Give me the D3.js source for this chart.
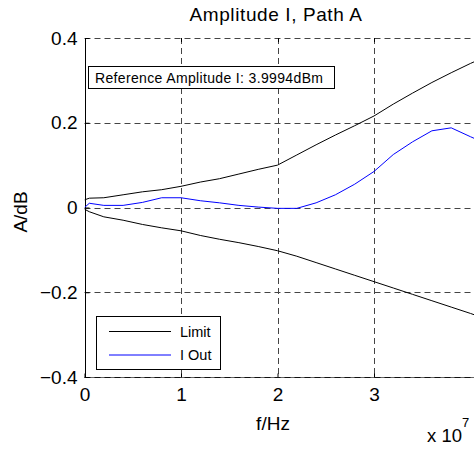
<!DOCTYPE html>
<html><head><meta charset="utf-8">
<script src="https://cdn.jsdelivr.net/npm/d3@7"></script>
<style>body{margin:0;background:#fff}svg{display:block;font-family:Arial,"Liberation Sans",sans-serif}</style>
</head><body>
<svg id="c" width="474" height="449"></svg>
<script>
const freq = [0, 0.05, 0.2, 0.4, 0.6, 0.8, 1.0, 1.2, 1.4, 1.6, 1.8, 2.0, 2.2, 2.4, 2.6, 2.8, 3.0, 3.2, 3.4, 3.6, 3.8, 4.0, 4.05];
const limitUpper = [0.018, 0.022, 0.023, 0.030, 0.037, 0.042, 0.050, 0.060, 0.068, 0.079, 0.090, 0.100, 0.124, 0.148, 0.171, 0.193, 0.216, 0.244, 0.270, 0.295, 0.318, 0.340, 0.345];
const limitLower = [-0.004, -0.010, -0.022, -0.030, -0.040, -0.048, -0.055, -0.066, -0.075, -0.083, -0.092, -0.102, -0.115, -0.130, -0.145, -0.160, -0.175, -0.190, -0.205, -0.220, -0.235, -0.250, -0.254];
const iOut = [0.000, 0.010, 0.005, 0.005, 0.012, 0.023, 0.023, 0.016, 0.011, 0.005, 0.001, -0.002, -0.002, 0.011, 0.030, 0.055, 0.085, 0.125, 0.155, 0.181, 0.188, 0.167, 0.162];
const xTicks = [0, 1, 2, 3];
const yTicks = [-0.4, -0.2, 0, 0.2, 0.4];
const xGrid = [1, 2, 3];
const yGrid = [-0.2, 0, 0.2, 0.4];
const titleText = "Amplitude I, Path A";
const noteText = "Reference Amplitude I: 3.9994dBm";
const legendNames = ["Limit", "I Out"];

const svg = d3.select("#c");
const L = 84.5, R = 470.5, T = 38, B = 377;
const x = d3.scaleLinear().domain([0, 4]).range([L, R]);
const y = d3.scaleLinear().domain([-0.4, 0.4]).range([B, T]);

const defs = svg.append("defs");
defs.append("clipPath").attr("id","clip").append("rect").attr("x",L).attr("y",T-1).attr("width",480-L).attr("height",B-T+2);

// grid
const grid = svg.append("g").attr("stroke","#444").attr("stroke-width",1).attr("stroke-dasharray","6,4");
grid.selectAll(".gx").data(xGrid).join("line").attr("x1",d=>Math.round(x(d))+0.5).attr("x2",d=>Math.round(x(d))+0.5).attr("y1",T).attr("y2",B);
grid.selectAll(".gy").data(yGrid).join("line").attr("x1",L).attr("x2",474).attr("y1",d=>Math.round(y(d))+0.5).attr("y2",d=>Math.round(y(d))+0.5);

// axes
const xAxis = d3.axisBottom(x).tickValues(xTicks).tickFormat(d3.format("d")).tickSize(-4).tickPadding(10);
const gx = svg.append("g").attr("transform",`translate(0,${Math.round(B)+0.5})`).call(xAxis);
gx.select(".domain").attr("d",`M${L},0H474`).attr("stroke","#666");
gx.append("line").attr("x1",L).attr("x2",474).attr("stroke","#111").attr("stroke-dasharray","6,4");
const yAxis = d3.axisLeft(y).tickValues(yTicks).tickFormat(d=>d===0?"0":d3.format(".1f")(d)).tickSize(-4).tickPadding(8);
const gy = svg.append("g").attr("transform",`translate(${Math.round(L)+0.5},0)`).call(yAxis);
gy.select(".domain").attr("d",`M0,${T}V${B}`).attr("stroke","#000");
svg.selectAll(".tick text").attr("font-size",19).attr("fill","#000").attr("font-family","Arial, 'Liberation Sans', sans-serif");
svg.selectAll(".tick line").attr("stroke","#000");
// top ticks
svg.append("g").selectAll("line").data(xGrid).join("line").attr("x1",d=>Math.round(x(d))+0.5).attr("x2",d=>Math.round(x(d))+0.5).attr("y1",T).attr("y2",T+4).attr("stroke","#000");

// lines
const line = d3.line().x((d,i)=>x(freq[i])).y(d=>y(d));
const plot = svg.append("g").attr("clip-path","url(#clip)").attr("fill","none");
plot.append("path").attr("d",line(limitUpper)).attr("stroke","#000").attr("stroke-width",1);
plot.append("path").attr("d",line(limitLower)).attr("stroke","#000").attr("stroke-width",1);
plot.append("path").attr("d",line(iOut)).attr("stroke","#0000ff").attr("stroke-width",1);

// title & labels
svg.append("text").attr("x",276).attr("y",21).attr("text-anchor","middle").attr("font-size",19).attr("letter-spacing",0.6).text(titleText);
svg.append("text").attr("x",273).attr("y",430).attr("text-anchor","middle").attr("font-size",19).text("f/Hz");
svg.append("text").attr("transform","translate(27,212) rotate(-90)").attr("text-anchor","middle").attr("font-size",19).text("A/dB");
const ex = svg.append("text").attr("x",427).attr("y",442).attr("font-size",18.5);
ex.append("tspan").text("x 10");
ex.append("tspan").attr("dy",-15).attr("font-size",13).text("7");

// note box
svg.append("rect").attr("x",88.5).attr("y",66.5).attr("width",246).attr("height",22).attr("fill","#fff").attr("stroke","#000");
svg.append("text").attr("x",95).attr("y",82.5).attr("font-size",14).attr("letter-spacing",0.35).text(noteText);

// legend
const lg = svg.append("g");
lg.append("rect").attr("x",96.5).attr("y",316.5).attr("width",124).attr("height",53).attr("fill","#fff").attr("stroke","#000");
const colors = ["#000","#0000ff"];
legendNames.forEach((n,i)=>{
  const yy = 331 + i*23.5;
  lg.append("line").attr("x1",109).attr("x2",171).attr("y1",yy+0.5).attr("y2",yy+0.5).attr("stroke",colors[i]);
  lg.append("text").attr("x",180).attr("y",yy+5.5).attr("font-size",14.5).text(n);
});
</script>
</body></html>
